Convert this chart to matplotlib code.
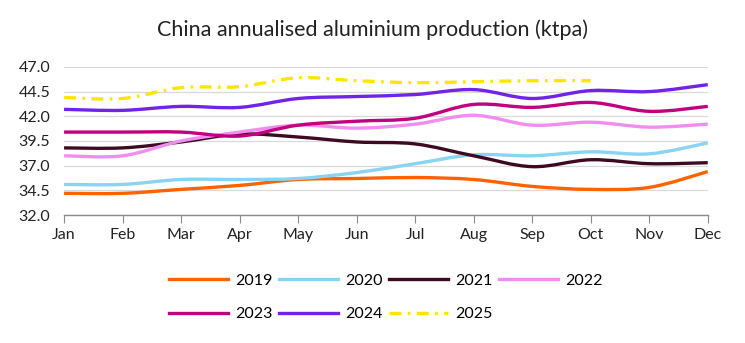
import numpy as np
import matplotlib.pyplot as plt
from matplotlib.path import Path
from matplotlib.patches import PathPatch
from matplotlib.lines import Line2D

plt.rcParams['font.family'] = ['Lato', 'DejaVu Sans']

months = ['Jan', 'Feb', 'Mar', 'Apr', 'May', 'Jun', 'Jul', 'Aug', 'Sep', 'Oct', 'Nov', 'Dec']

y2019 = [34.2, 34.2, 34.6, 35.0, 35.6, 35.7, 35.8, 35.6, 34.9, 34.6, 34.8, 36.4]
y2020 = [35.1, 35.1, 35.6, 35.6, 35.7, 36.3, 37.2, 38.1, 38.0, 38.4, 38.2, 39.3]
y2021 = [38.8, 38.8, 39.4, 40.2, 39.9, 39.4, 39.2, 38.0, 36.9, 37.6, 37.2, 37.3]
y2022 = [38.0, 38.0, 39.5, 40.4, 41.1, 40.8, 41.2, 42.1, 41.1, 41.4, 40.9, 41.2]
y2023 = [40.4, 40.4, 40.4, 40.0, 41.1, 41.5, 41.8, 43.2, 42.9, 43.4, 42.5, 43.0]
y2024 = [42.7, 42.6, 43.0, 42.9, 43.8, 44.0, 44.2, 44.7, 43.8, 44.6, 44.5, 45.2]
y2025 = [43.9, 43.8, 44.9, 45.0, 45.9, 45.6, 45.4, 45.5, 45.6, 45.6]

series = [
    ('2019', y2019, '#ff6200', '-'),
    ('2020', y2020, '#89d4f3', '-'),
    ('2021', y2021, '#3d0a22', '-'),
    ('2022', y2022, '#f08ef0', '-'),
    ('2023', y2023, '#c2007f', '-'),
    ('2024', y2024, '#7024e6', '-'),
    ('2025', y2025, '#ffe600', (0, (3.6, 1.9, 0.8, 1.9))),
]


def smooth_path(xs, ys, t=1 / 6.0):
    # catmull-rom style bezier segments, like a spreadsheet "smoothed line"
    verts = [(xs[0], ys[0])]
    codes = [Path.MOVETO]
    n = len(xs)
    for i in range(n - 1):
        x0, y0 = (xs[i - 1], ys[i - 1]) if i > 0 else (xs[i], ys[i])
        x1, y1 = xs[i], ys[i]
        x2, y2 = xs[i + 1], ys[i + 1]
        x3, y3 = (xs[i + 2], ys[i + 2]) if i + 2 < n else (x2, y2)
        c1 = (x1 + (x2 - x0) * t, y1 + (y2 - y0) * t)
        c2 = (x2 - (x3 - x1) * t, y2 - (y3 - y1) * t)
        verts += [c1, c2, (x2, y2)]
        codes += [Path.CURVE4] * 3
    return Path(verts, codes)


fig = plt.figure(figsize=(7.45, 3.43), dpi=100)
ax = fig.add_axes([0.086, 0.373, 0.864, 0.432])

handles = {}
for name, vals, color, ls in series:
    xs = list(range(len(vals)))
    patch = PathPatch(smooth_path(xs, vals), fill=False, edgecolor=color,
                      linewidth=2.4, linestyle=ls, capstyle='butt', zorder=3)
    ax.add_patch(patch)
    handles[name] = Line2D([], [], color=color, linewidth=2.4, linestyle=ls, label=name)

ax.set_xlim(0, 11)
ax.set_ylim(32, 47)
ax.set_yticks(np.arange(32, 47.1, 2.5))
ax.set_yticklabels(['%.1f' % v for v in np.arange(32, 47.1, 2.5)])
ax.set_xticks(range(12))
ax.set_xticklabels(months)

ax.grid(axis='y', color='#d9d9d9', linewidth=0.9, zorder=0)
for s in ['top', 'right', 'left']:
    ax.spines[s].set_visible(False)
ax.spines['bottom'].set_color('#8c8c8c')
ax.spines['bottom'].set_linewidth(1.0)
ax.tick_params(axis='y', length=0, labelsize=11.5, pad=10)
ax.tick_params(axis='x', length=6, color='#8c8c8c', labelsize=11.5, pad=3)
for lbl in ax.get_xticklabels() + ax.get_yticklabels():
    lbl.set_color('#222222')

fig.text(0.5, 0.912, 'China annualised aluminium production (ktpa)', ha='center', va='center',
         fontsize=15.5, color='#222222')

# legend fills column by column, so order the handles to read across rows
order = ['2019', '2023', '2020', '2024', '2021', '2025', '2022']
fig.legend(handles=[handles[k] for k in order], loc='center', bbox_to_anchor=(0.518, 0.133),
           ncol=4, frameon=False, fontsize=11.5, handlelength=3.7, handletextpad=0.45,
           columnspacing=0.4, labelspacing=1.2)

fig.savefig('out.png', dpi=100)
